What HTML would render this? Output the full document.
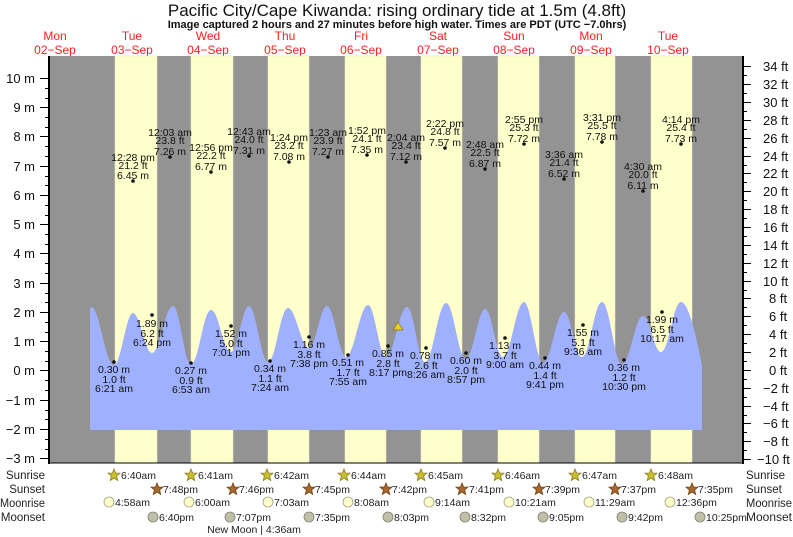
<!DOCTYPE html>
<html><head><meta charset="utf-8"><style>
html,body{margin:0;padding:0;background:#fff;}
svg{display:block;font-family:"Liberation Sans",sans-serif;}
</style></head><body>
<svg width="793" height="537" viewBox="0 0 793 537" xmlns="http://www.w3.org/2000/svg">
<text x="397" y="16" font-size="17" text-anchor="middle" fill="#111">Pacific City/Cape Kiwanda: rising  ordinary tide at 1.5m (4.8ft)</text>
<text x="397" y="28" font-size="11" font-weight="bold" text-anchor="middle" fill="#111">Image captured 2 hours and 27 minutes before high water. Times are PDT (UTC −7.0hrs)</text>
<g font-size="12" fill="#ff2020" text-anchor="middle">
<text x="55" y="40">Mon</text><text x="55" y="54">02−Sep</text>
<text x="132" y="40">Tue</text><text x="132" y="54">03−Sep</text>
<text x="208" y="40">Wed</text><text x="208" y="54">04−Sep</text>
<text x="285" y="40">Thu</text><text x="285" y="54">05−Sep</text>
<text x="361" y="40">Fri</text><text x="361" y="54">06−Sep</text>
<text x="438" y="40">Sat</text><text x="438" y="54">07−Sep</text>
<text x="514" y="40">Sun</text><text x="514" y="54">08−Sep</text>
<text x="591" y="40">Mon</text><text x="591" y="54">09−Sep</text>
<text x="668" y="40">Tue</text><text x="668" y="54">10−Sep</text>
</g>
<rect x="49" y="56" width="694" height="407" fill="#939393"/>
<g fill="#ffffcc" stroke="#e8e8c0" stroke-width="0.6">
<rect x="115" y="56" width="42" height="407"/>
<rect x="191" y="56" width="42" height="407"/>
<rect x="268" y="56" width="41" height="407"/>
<rect x="345" y="56" width="41" height="407"/>
<rect x="421" y="56" width="41" height="407"/>
<rect x="498" y="56" width="41" height="407"/>
<rect x="575" y="56" width="40" height="407"/>
<rect x="651" y="56" width="41" height="407"/>
</g>
<path fill="#9fb0ff" d="M90,430 L90,309 Q90.5,307 91,307 C100,307 105,365 114,365 C121,365 126,313 133,313 C140,313 145,353 152,353 C160,353 165,306 173,306 C180,306 184,364 191,364 C199,364 203,310 211,310 C219,310 223,352 231,352 C238,352 242,306 249,306 C256,306 261,362 268,362 C276,362 280,308 288,308 C296,308 301,348 309,348 C316,348 320,306 327,306 C334,306 339,357 346,357 C354,357 360,305 368,305 C375,305 379,357 386,357 C394,357 399,307 407,307 C414,307 418,362 425,362 C433,362 438,303 446,303 C454,303 458,359 466,359 C473,359 478,309 485,309 C492,309 496,357 503,357 C511,357 516,302 524,302 C531,302 536,363 543,363 C551,363 556,312 564,312 C571,312 575,357 582,357 C590,357 594,302 602,302 C610,302 614,364 622,364 C630,364 635,316 643,316 C650,316 654,352 661,352 C669,352 673,302 681,302 C689,302 697,340 702,365 L702,430 Z"/>
<polygon points="398,322 393,330 403,330" fill="#e8d020" stroke="#807010" stroke-width="0.7"/>
<line x1="49" y1="56" x2="49" y2="464" stroke="#000" stroke-width="2"/>
<line x1="743" y1="56" x2="743" y2="464" stroke="#000" stroke-width="2"/>
<line x1="48" y1="463" x2="743" y2="463" stroke="#000" stroke-width="1"/>
<path stroke="#000" stroke-width="1" fill="none" d="M40,78.5H49M40,107.5H49M40,136.5H49M40,166.5H49M40,195.5H49M40,224.5H49M40,253.5H49M40,283.5H49M40,312.5H49M40,341.5H49M40,370.5H49M40,400.5H49M40,429.5H49M40,458.5H49
M45,88.5H49M45,98.5H49M45,117.5H49M45,127.5H49M45,146.5H49M45,156.5H49M45,176.5H49M45,185.5H49M45,205.5H49M45,215.5H49M45,234.5H49M45,244.5H49M45,263.5H49M45,273.5H49M45,293.5H49M45,302.5H49M45,322.5H49M45,332.5H49M45,351.5H49M45,361.5H49M45,380.5H49M45,390.5H49M45,410.5H49M45,419.5H49M45,439.5H49M45,449.5H49
M743,66.5H751M743,84.5H751M743,102.5H751M743,120.5H751M743,138.5H751M743,156.5H751M743,173.5H751M743,191.5H751M743,209.5H751M743,227.5H751M743,245.5H751M743,263.5H751M743,281.5H751M743,298.5H751M743,316.5H751M743,334.5H751M743,352.5H751M743,370.5H751M743,388.5H751M743,406.5H751M743,423.5H751M743,441.5H751M743,459.5H751
M743,75.5H747M743,93.5H747M743,111.5H747M743,129.5H747M743,147.5H747M743,165.5H747M743,182.5H747M743,200.5H747M743,218.5H747M743,236.5H747M743,254.5H747M743,272.5H747M743,290.5H747M743,307.5H747M743,325.5H747M743,343.5H747M743,361.5H747M743,379.5H747M743,397.5H747M743,415.5H747M743,432.5H747M743,450.5H747"/>
<g font-size="13" fill="#111" text-anchor="end">
<text x="35" y="83">10 m</text><text x="35" y="112">9 m</text><text x="35" y="141">8 m</text><text x="35" y="171">7 m</text><text x="35" y="200">6 m</text><text x="35" y="229">5 m</text><text x="35" y="258">4 m</text><text x="35" y="288">3 m</text><text x="35" y="317">2 m</text><text x="35" y="346">1 m</text><text x="35" y="375">0 m</text><text x="35" y="405">−1 m</text><text x="35" y="434">−2 m</text><text x="35" y="463">−3 m</text>
</g>
<g font-size="13" fill="#111">
<text x="763" y="71">34 ft</text><text x="763" y="89">32 ft</text><text x="763" y="107">30 ft</text><text x="763" y="125">28 ft</text><text x="763" y="143">26 ft</text><text x="763" y="161">24 ft</text><text x="763" y="178">22 ft</text><text x="763" y="196">20 ft</text><text x="763" y="214">18 ft</text><text x="763" y="232">16 ft</text><text x="763" y="250">14 ft</text><text x="763" y="268">12 ft</text><text x="763" y="286">10 ft</text><text x="769" y="303">8 ft</text><text x="769" y="321">6 ft</text><text x="769" y="339">4 ft</text><text x="769" y="357">2 ft</text><text x="769" y="375">0 ft</text><text x="763" y="393">−2 ft</text><text x="763" y="411">−4 ft</text><text x="763" y="428">−6 ft</text><text x="763" y="446">−8 ft</text><text x="757" y="464">−10 ft</text>
</g>
<g font-size="10.5" fill="#111" text-anchor="middle">
<circle cx="133" cy="181" r="1.8"/><text x="133" y="161">12:28 pm</text><text x="133" y="169">21.2 ft</text><text x="133" y="179">6.45 m</text>
<circle cx="170" cy="157" r="1.8"/><text x="170" y="136">12:03 am</text><text x="170" y="144">23.8 ft</text><text x="170" y="155">7.26 m</text>
<circle cx="211" cy="172" r="1.8"/><text x="211" y="151">12:56 pm</text><text x="211" y="159">22.2 ft</text><text x="211" y="170">6.77 m</text>
<circle cx="249" cy="156" r="1.8"/><text x="249" y="135">12:43 am</text><text x="249" y="143">24.0 ft</text><text x="249" y="154">7.31 m</text>
<circle cx="289" cy="162" r="1.8"/><text x="289" y="141">1:24 pm</text><text x="289" y="149">23.2 ft</text><text x="289" y="160">7.08 m</text>
<circle cx="328" cy="157" r="1.8"/><text x="328" y="136">1:23 am</text><text x="328" y="144">23.9 ft</text><text x="328" y="155">7.27 m</text>
<circle cx="367" cy="155" r="1.8"/><text x="367" y="134">1:52 pm</text><text x="367" y="142">24.1 ft</text><text x="367" y="153">7.35 m</text>
<circle cx="406" cy="162" r="1.8"/><text x="406" y="141">2:04 am</text><text x="406" y="149">23.4 ft</text><text x="406" y="160">7.12 m</text>
<circle cx="445" cy="148" r="1.8"/><text x="445" y="127">2:22 pm</text><text x="445" y="135">24.8 ft</text><text x="445" y="146">7.57 m</text>
<circle cx="485" cy="169" r="1.8"/><text x="485" y="148">2:48 am</text><text x="485" y="156">22.5 ft</text><text x="485" y="167">6.87 m</text>
<circle cx="524" cy="144" r="1.8"/><text x="524" y="123">2:55 pm</text><text x="524" y="131">25.3 ft</text><text x="524" y="142">7.72 m</text>
<circle cx="564" cy="179" r="1.8"/><text x="564" y="158">3:36 am</text><text x="564" y="166">21.4 ft</text><text x="564" y="177">6.52 m</text>
<circle cx="602" cy="142" r="1.8"/><text x="602" y="121">3:31 pm</text><text x="602" y="129">25.5 ft</text><text x="602" y="140">7.78 m</text>
<circle cx="643" cy="191" r="1.8"/><text x="643" y="170">4:30 am</text><text x="643" y="178">20.0 ft</text><text x="643" y="189">6.11 m</text>
<circle cx="681" cy="144" r="1.8"/><text x="681" y="123">4:14 pm</text><text x="681" y="131">25.4 ft</text><text x="681" y="142">7.73 m</text>
</g>
<g font-size="10.5" fill="#111" text-anchor="middle">
<circle cx="114" cy="362" r="1.8"/><text x="114" y="373">0.30 m</text><text x="114" y="383">1.0 ft</text><text x="114" y="392">6:21 am</text>
<circle cx="152" cy="315" r="1.8"/><text x="152" y="327">1.89 m</text><text x="152" y="337">6.2 ft</text><text x="152" y="346">6:24 pm</text>
<circle cx="191" cy="363" r="1.8"/><text x="191" y="374">0.27 m</text><text x="191" y="384">0.9 ft</text><text x="191" y="393">6:53 am</text>
<circle cx="231" cy="326" r="1.8"/><text x="231" y="337">1.52 m</text><text x="231" y="347">5.0 ft</text><text x="231" y="356">7:01 pm</text>
<circle cx="270" cy="361" r="1.8"/><text x="270" y="372">0.34 m</text><text x="270" y="382">1.1 ft</text><text x="270" y="391">7:24 am</text>
<circle cx="309" cy="337" r="1.8"/><text x="309" y="348">1.16 m</text><text x="309" y="358">3.8 ft</text><text x="309" y="367">7:38 pm</text>
<circle cx="348" cy="355" r="1.8"/><text x="348" y="366">0.51 m</text><text x="348" y="376">1.7 ft</text><text x="348" y="385">7:55 am</text>
<circle cx="388" cy="346" r="1.8"/><text x="388" y="357">0.85 m</text><text x="388" y="367">2.8 ft</text><text x="388" y="376">8:17 pm</text>
<circle cx="426" cy="348" r="1.8"/><text x="426" y="359">0.78 m</text><text x="426" y="369">2.6 ft</text><text x="426" y="378">8:26 am</text>
<circle cx="466" cy="353" r="1.8"/><text x="466" y="364">0.60 m</text><text x="466" y="374">2.0 ft</text><text x="466" y="383">8:57 pm</text>
<circle cx="505" cy="338" r="1.8"/><text x="505" y="349">1.13 m</text><text x="505" y="359">3.7 ft</text><text x="505" y="368">9:00 am</text>
<circle cx="545" cy="358" r="1.8"/><text x="545" y="369">0.44 m</text><text x="545" y="379">1.4 ft</text><text x="545" y="388">9:41 pm</text>
<circle cx="583" cy="325" r="1.8"/><text x="583" y="336">1.55 m</text><text x="583" y="346">5.1 ft</text><text x="583" y="355">9:36 am</text>
<circle cx="624" cy="360" r="1.8"/><text x="624" y="371">0.36 m</text><text x="624" y="381">1.2 ft</text><text x="624" y="390">10:30 pm</text>
<circle cx="662" cy="312" r="1.8"/><text x="662" y="323">1.99 m</text><text x="662" y="333">6.5 ft</text><text x="662" y="342">10:17 am</text>
</g>
<g font-size="11.5" fill="#222">
<text x="45" y="479" text-anchor="end">Sunrise</text>
<text x="45" y="493" text-anchor="end">Sunset</text>
<text x="45" y="507" text-anchor="end" textLength="45" lengthAdjust="spacingAndGlyphs">Moonrise</text>
<text x="45" y="521" text-anchor="end">Moonset</text>
<text x="746" y="479">Sunrise</text>
<text x="746" y="493">Sunset</text>
<text x="746" y="507" textLength="46" lengthAdjust="spacingAndGlyphs">Moonrise</text>
<text x="746" y="521" textLength="46" lengthAdjust="spacingAndGlyphs">Moonset</text>
</g>
<defs>
<polygon id="st" points="0,-6 1.6,-2 6,-1.9 2.6,1 3.7,5.5 0,3 -3.7,5.5 -2.6,1 -6,-1.9 -1.6,-2"/>
</defs>
<g fill="#c8c030" stroke="#8a7a20" stroke-width="0.8">
<use href="#st" x="114" y="475"/><use href="#st" x="191" y="475"/><use href="#st" x="267" y="475"/><use href="#st" x="344" y="475"/><use href="#st" x="421" y="475"/><use href="#st" x="498" y="475"/><use href="#st" x="575" y="475"/><use href="#st" x="651" y="475"/>
</g>
<g fill="#a86830" stroke="#704010" stroke-width="0.8">
<use href="#st" x="157" y="489"/><use href="#st" x="233" y="489"/><use href="#st" x="309" y="489"/><use href="#st" x="386" y="489"/><use href="#st" x="462" y="489"/><use href="#st" x="539" y="489"/><use href="#st" x="615" y="489"/><use href="#st" x="692" y="489"/>
</g>
<g fill="#ffffcc" stroke="#a0a080" stroke-width="0.8">
<circle cx="109" cy="502" r="5"/><circle cx="189" cy="502" r="5"/><circle cx="268" cy="502" r="5"/><circle cx="348" cy="502" r="5"/><circle cx="429" cy="502" r="5"/><circle cx="509" cy="502" r="5"/><circle cx="589" cy="502" r="5"/><circle cx="670" cy="502" r="5"/>
</g>
<g fill="#c0c0a8" stroke="#808070" stroke-width="0.8">
<circle cx="153" cy="517" r="5"/><circle cx="230" cy="517" r="5"/><circle cx="309" cy="517" r="5"/><circle cx="388" cy="517" r="5"/><circle cx="465" cy="517" r="5"/><circle cx="543" cy="517" r="5"/><circle cx="622" cy="517" r="5"/><circle cx="700" cy="517" r="5"/>
</g>
<g font-size="10.5" fill="#222">
<text x="121" y="479">6:40am</text><text x="198" y="479">6:41am</text><text x="274" y="479">6:42am</text><text x="351" y="479">6:44am</text><text x="428" y="479">6:45am</text><text x="505" y="479">6:46am</text><text x="582" y="479">6:47am</text><text x="658" y="479">6:48am</text>
<text x="163" y="493">7:48pm</text><text x="239" y="493">7:46pm</text><text x="315" y="493">7:45pm</text><text x="392" y="493">7:42pm</text><text x="469" y="493">7:41pm</text><text x="545" y="493">7:39pm</text><text x="621" y="493">7:37pm</text><text x="698" y="493">7:35pm</text>
<text x="115" y="506">4:58am</text><text x="195" y="506">6:00am</text><text x="274" y="506">7:03am</text><text x="354" y="506">8:08am</text><text x="435" y="506">9:14am</text><text x="515" y="506">10:21am</text><text x="595" y="506">11:29am</text><text x="676" y="506">12:36pm</text>
<text x="159" y="521">6:40pm</text><text x="236" y="521">7:07pm</text><text x="315" y="521">7:35pm</text><text x="394" y="521">8:03pm</text><text x="471" y="521">8:32pm</text><text x="549" y="521">9:05pm</text><text x="628" y="521">9:42pm</text><text x="706" y="521">10:25pm</text>
<text x="254" y="533" text-anchor="middle">New Moon | 4:36am</text>
</g>
</svg>
</body></html>
